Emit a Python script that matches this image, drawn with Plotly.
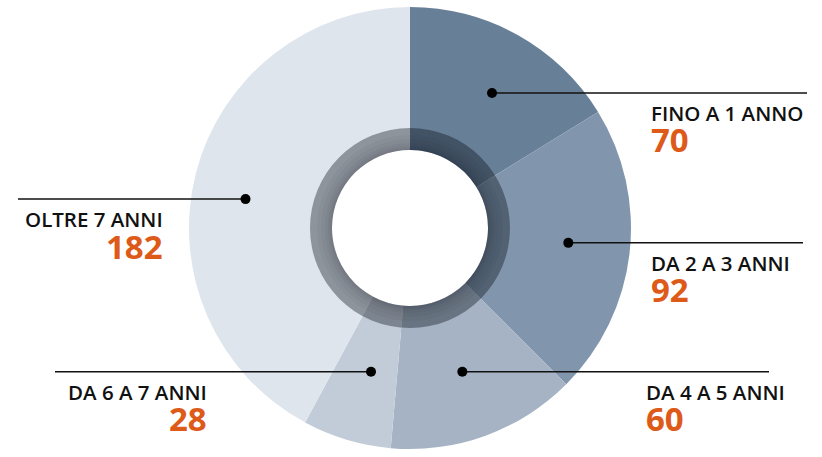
import math
import plotly.graph_objects as go

categories = ["FINO A 1 ANNO", "DA 2 A 3 ANNI", "DA 4 A 5 ANNI", "DA 6 A 7 ANNI", "OLTRE 7 ANNI"]
values = [70, 92, 60, 28, 182]
colors = ["#687f98", "#8196ad", "#a5b3c4", "#c2ccd8", "#dfe5ed"]

W, H = 822, 457
CX, CY = 410, 228          # pie centre, px
R = 221                    # outer radius, px
R_RING = 100               # shaded ring outer radius
R_HOLE = 78                # white hole radius

# label layout: side, dot angle offset from slice middle (deg), dot radius (px), line end x, text x
label_layout = [
    ("right", 2.1, 158, 807, 650),
    ("right", -1.3, 159, 803, 650),
    ("right", 0.0, 153, 769, 645),
    ("left", -1.5, 149, 55, 208),
    ("left", -4.2, 167, 18, 164),
]


def dom(r):
    return dict(x=[(CX - r) / W, (CX + r) / W], y=[1 - (CY + r) / H, 1 - (CY - r) / H])


fig = go.Figure()
fig.add_trace(go.Pie(
    labels=categories, values=values, sort=False, direction="clockwise", rotation=0,
    marker=dict(colors=colors, line=dict(width=0)), hole=R_HOLE / R,
    textinfo="none", hoverinfo="label+value", domain=dom(R), showlegend=False,
))
# shaded ring overlays (outer band, then darker inner bands)
for r_out, alpha in [(R_RING, 0.36), (R_HOLE + 15, 0.03), (R_HOLE + 11, 0.03),
                     (R_HOLE + 7, 0.04), (R_HOLE + 4, 0.04), (R_HOLE + 2, 0.04)]:
    fig.add_trace(go.Pie(
        values=[1], sort=False, marker=dict(colors=["rgba(0,5,15,%.2f)" % alpha], line=dict(width=0)),
        hole=R_HOLE / r_out, textinfo="none", hoverinfo="skip", domain=dom(r_out), showlegend=False,
    ))

shapes = []
annotations = []
total = sum(values)
cum = 0
px = lambda x: x / W
py = lambda y: 1 - y / H
for cat, v, (side, da, r, lx, tx) in zip(categories, values, label_layout):
    mid = (cum + v / 2) / total * 2 * math.pi + math.radians(da)
    cum += v
    dx = CX + r * math.sin(mid)
    dy = CY - r * math.cos(mid)
    shapes.append(dict(type="line", xref="paper", yref="paper",
                       x0=px(dx), x1=px(lx), y0=py(dy), y1=py(dy),
                       line=dict(color="#111111", width=1.5)))
    shapes.append(dict(type="circle", xref="paper", yref="paper",
                       x0=px(dx - 5), x1=px(dx + 5), y0=py(dy + 5), y1=py(dy - 5),
                       fillcolor="#000000", line=dict(width=0)))
    anchor = "left" if side == "right" else "right"
    annotations.append(dict(xref="paper", yref="paper", x=px(tx), y=py(dy + 20),
                            text=cat, showarrow=False, xanchor=anchor, yanchor="middle",
                            font=dict(family="Open Sans", size=20.5, weight=600, color="#111111"),
                            align=anchor, borderpad=0))
    annotations.append(dict(xref="paper", yref="paper", x=px(tx), y=py(dy + 47),
                            text=str(v), showarrow=False, xanchor=anchor, yanchor="middle",
                            font=dict(family="Open Sans", size=33, weight=700, color="#dd5a19"),
                            borderpad=0))

fig.update_layout(width=W, height=H, margin=dict(l=0, r=0, t=0, b=0),
                  paper_bgcolor="white", plot_bgcolor="white",
                  shapes=shapes, annotations=annotations)
fig.write_html("out.html", config={"displayModeBar": False},
               post_script="document.body.style.margin='0px';")
